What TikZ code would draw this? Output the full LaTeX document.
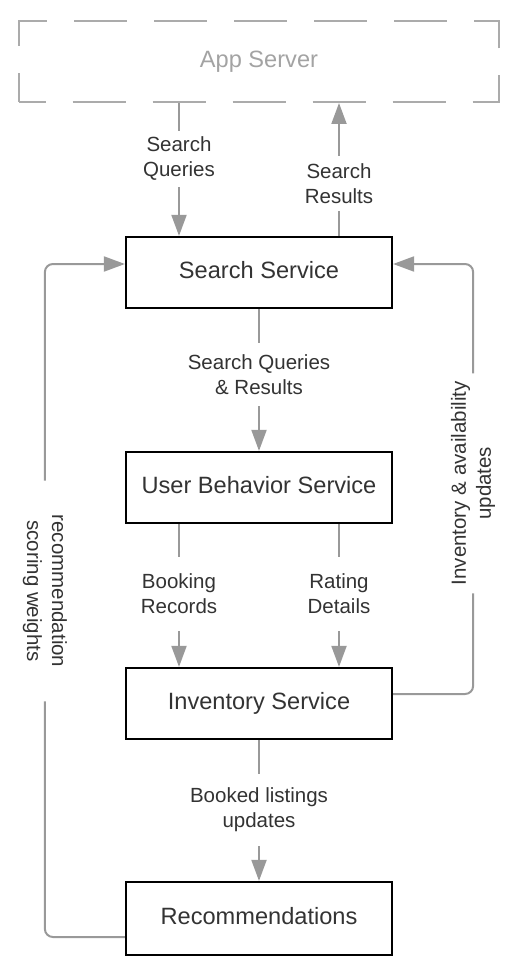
\documentclass[tikz,border=0pt]{standalone}
\usepackage{fontspec}
\setmainfont{Liberation Sans}
\usetikzlibrary{arrows.meta,calc}
\definecolor{linegray}{HTML}{999999}
\definecolor{dashgray}{HTML}{ABABAB}
\definecolor{appgray}{HTML}{A3A3A3}
\definecolor{txt}{HTML}{333333}
\begin{document}
\begin{tikzpicture}[x=1pt,y=-1pt,
  box/.style={draw=black, line width=2.2pt, minimum width=266pt, minimum height=71pt,
    inner sep=0pt, text=txt, text height=17pt, text depth=5.9pt,
    font=\fontsize{23.6}{28}\selectfont},
  flow/.style={draw=linegray, line width=2pt, -{Triangle[length=21pt,width=15pt]}},
  lbl/.style={fill=white, text=txt, align=center, inner xsep=2pt, inner ysep=7pt,
    font=\fontsize{20.5}{25}\selectfont},
]
\useasboundingbox (0,0) rectangle (530,976);

\node[draw=dashgray, line width=2pt, dash pattern=on 53pt off 27pt, dash phase=26.5pt,
  minimum width=480pt, minimum height=81pt, inner sep=0pt, text=appgray,
  text height=17pt, text depth=5.9pt,
  font=\fontsize{23.6}{28}\selectfont] (app) at (259,61.5) {App Server};

\node[box] (search) at (259,272.5) {Search Service};
\node[box] (ubs) at (259,487.5) {User Behavior Service};
\node[box] (inv) at (259,703.5) {Inventory Service};
\node[box, minimum height=73pt] (rec) at (259,918.5) {Recommendations};

\draw[flow] ([xshift=-80pt]app.south) -- node[lbl, pos=0.42, inner ysep=6pt]{Search\\Queries} ([xshift=-80pt]search.north);
\draw[flow] ([xshift=80pt]search.north) -- node[lbl, pos=0.395, inner ysep=7.5pt]{Search\\Results} ([xshift=80pt]app.south);
\draw[flow] (search) -- node[lbl, pos=0.461, inner ysep=11.5pt]{Search Queries\\\& Results} (ubs);
\draw[flow] ([xshift=-80pt]ubs.south) -- node[lbl, pos=0.489, inner ysep=17pt]{Booking\\Records} ([xshift=-80pt]inv.north);
\draw[flow] ([xshift=80pt]ubs.south) -- node[lbl, pos=0.489, inner ysep=17pt]{Rating\\Details} ([xshift=80pt]inv.north);
\draw[flow] (inv) -- node[lbl, pos=0.496, inner ysep=13.9pt]{Booked listings\\updates} (rec);

\draw[flow, rounded corners=8pt] ([yshift=9.5pt]inv.east)
  -| node[lbl, rotate=90, pos=0.745, inner xsep=8pt, inner ysep=2pt]{Inventory \& availability\\updates}
  ($(search.east)+(80pt,8.5pt)$) -- ([yshift=8.5pt]search.east);

\draw[flow, rounded corners=8pt] ([yshift=-18.5pt]rec.west)
  -| node[lbl, rotate=-90, pos=0.757, inner xsep=34pt, inner ysep=2pt]{recommendation\\scoring weights}
  ($(search.west)+(-80pt,8.5pt)$) -- ([yshift=8.5pt]search.west);
\end{tikzpicture}
\end{document}
